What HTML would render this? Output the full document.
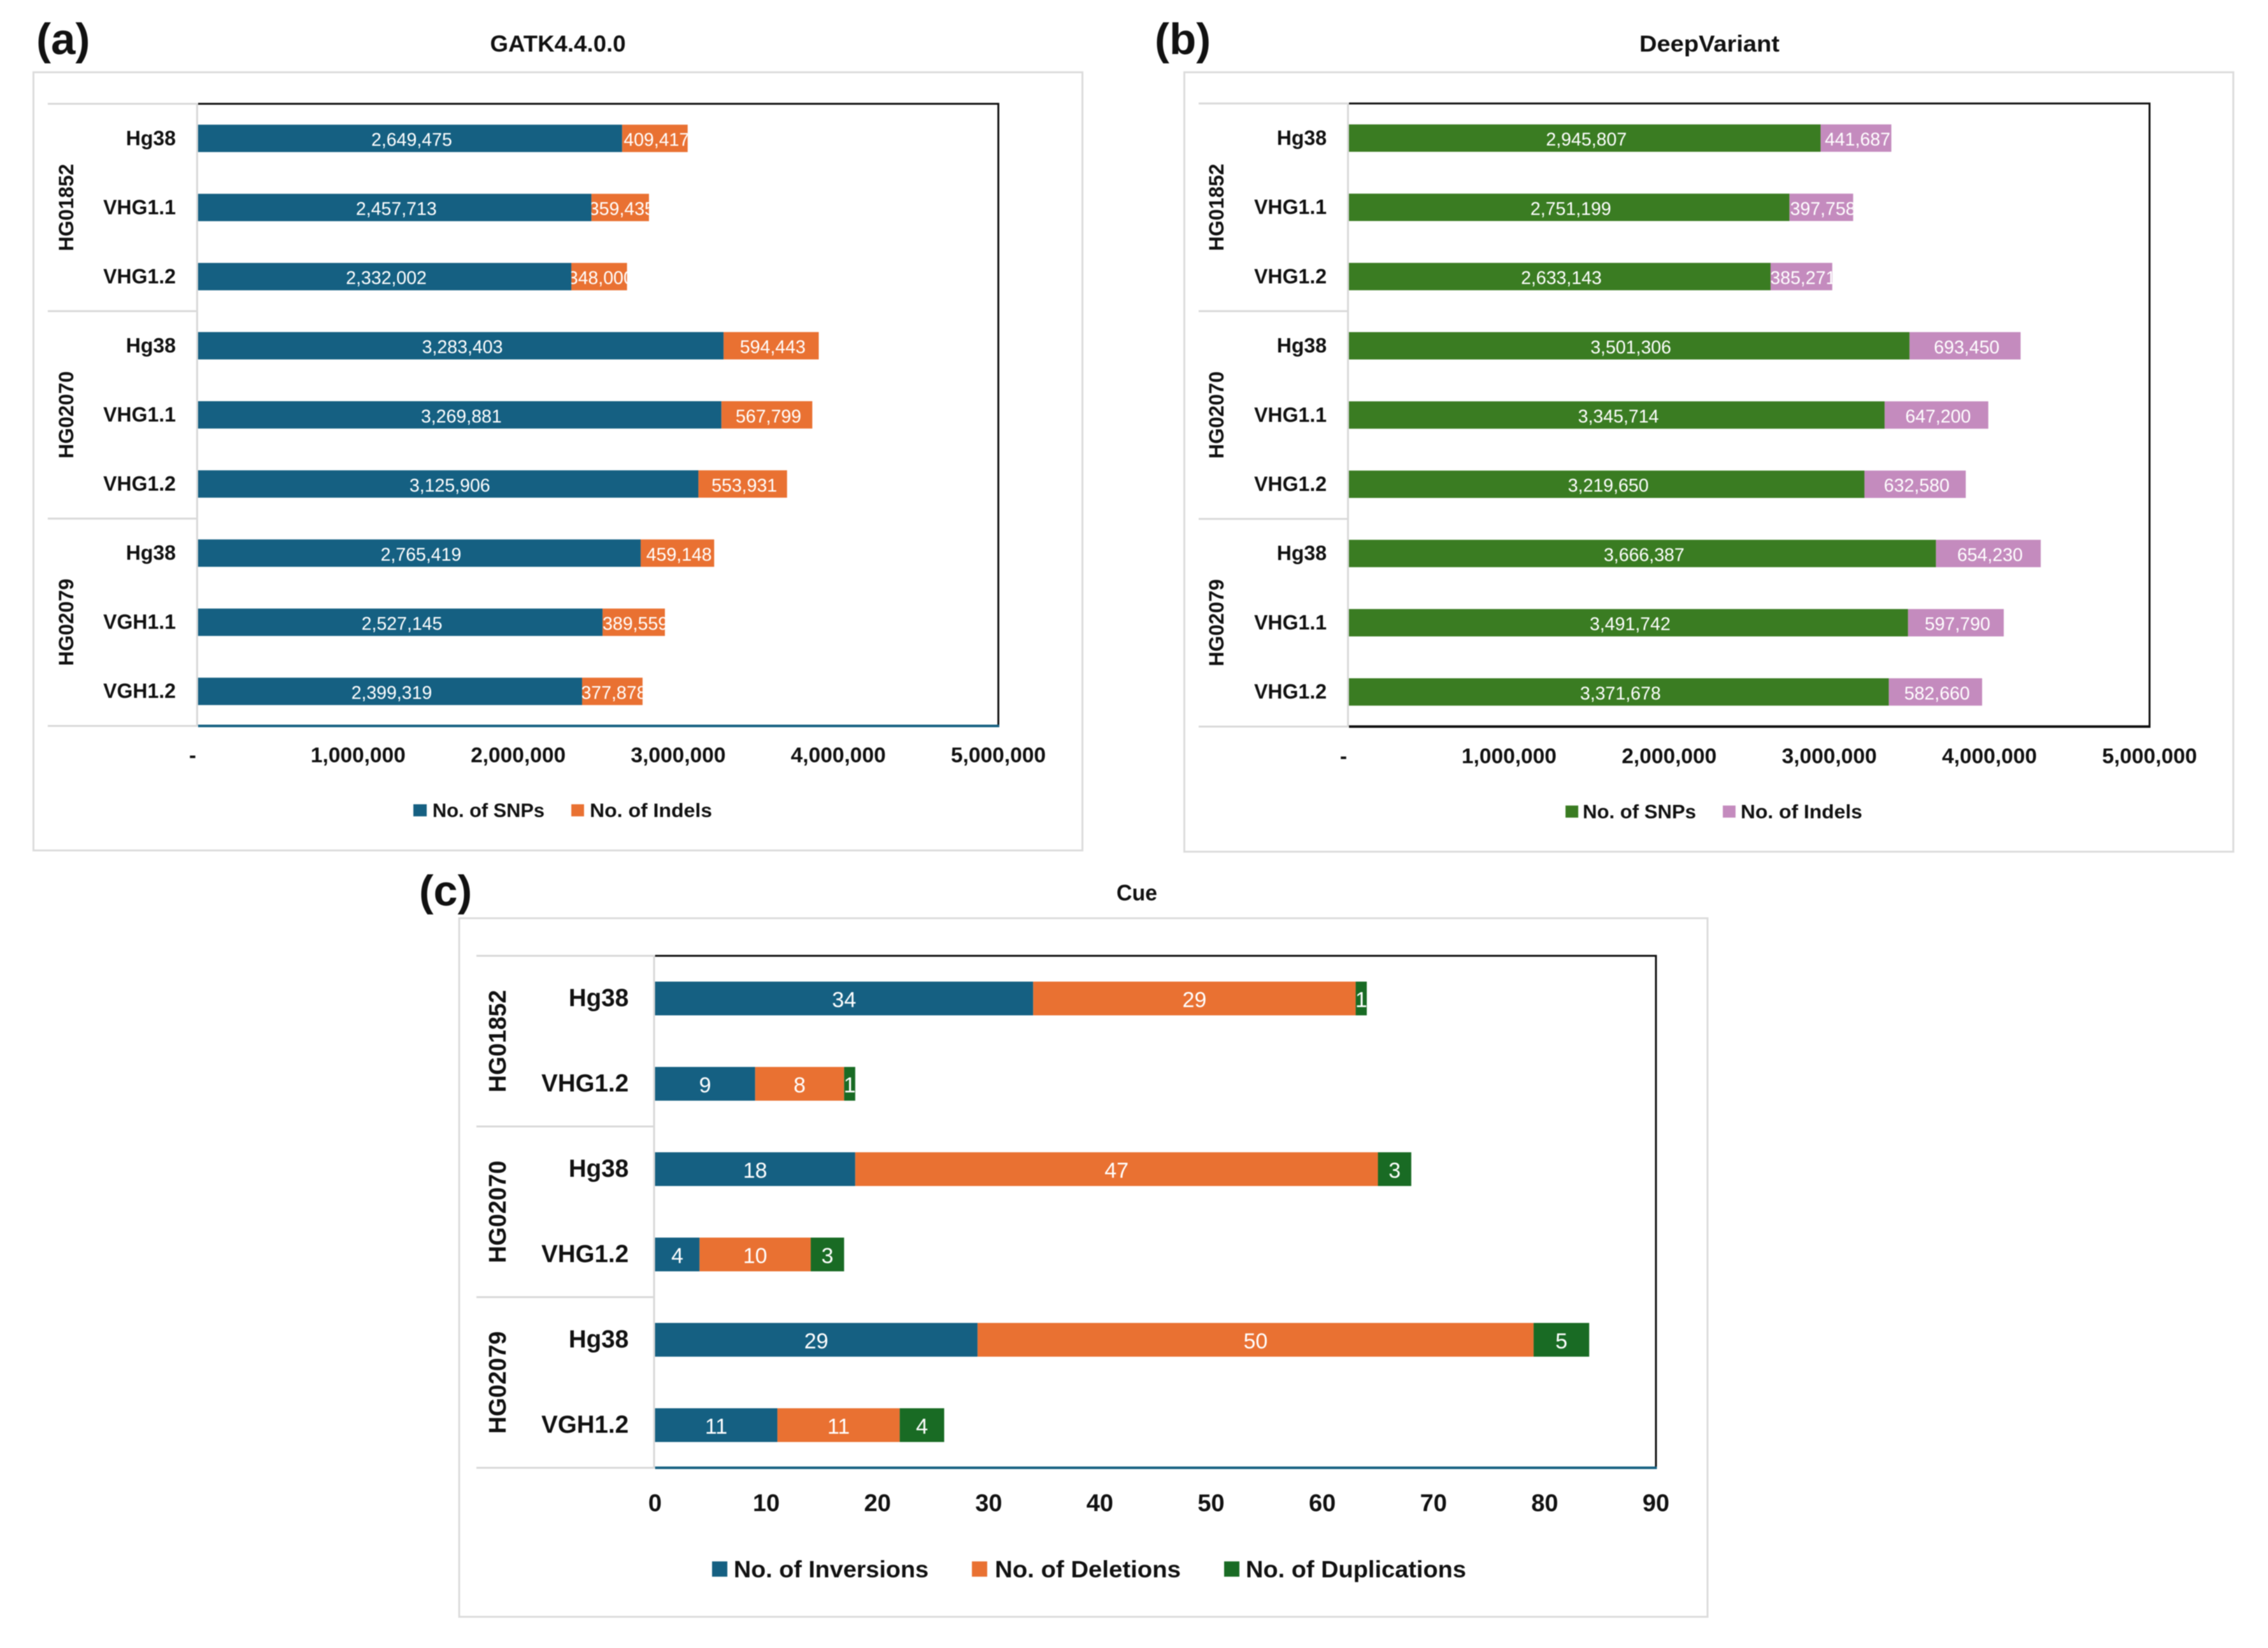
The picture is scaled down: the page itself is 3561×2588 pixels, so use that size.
<!DOCTYPE html>
<html lang="en">
<head>
<meta charset="utf-8">
<title>Variant counts by caller and reference</title>
<style>
  html, body { margin: 0; padding: 0; background: #fff; }
  body { width: 3561px; height: 2588px; overflow: hidden; }
  svg { display: block; font-family: "Liberation Sans", sans-serif; filter: blur(0.7px); }
  text { fill: #111; }
  .b { font-weight: 700; }
  .frame { fill: #fff; stroke: #dcdcdc; stroke-width: 3; }
</style>
</head>
<body>
<svg id="figure" xmlns="http://www.w3.org/2000/svg" width="3561" height="2588" viewBox="0 0 3561 2588">
  <defs id="clips"></defs>
  <rect x="0" y="0" width="3561" height="2588" fill="#fff"/>

  <rect class="frame" x="52.5" y="113.5" width="1647" height="1222"/>
  <rect class="frame" x="1859.5" y="113.5" width="1647" height="1224"/>
  <rect class="frame" x="721" y="1442" width="1960" height="1097"/>

  <text class="b" x="57" y="85" font-size="69">(a)</text>
  <text class="b" x="1813" y="85" font-size="69">(b)</text>
  <text class="b" x="658" y="1422" font-size="68">(c)</text>

  <text class="b" x="876" y="81" font-size="36" text-anchor="middle" textLength="213" lengthAdjust="spacingAndGlyphs">GATK4.4.0.0</text>
  <text class="b" x="2684" y="81" font-size="36" text-anchor="middle" textLength="220" lengthAdjust="spacingAndGlyphs">DeepVariant</text>
  <text class="b" x="1785" y="1414" font-size="35" text-anchor="middle" textLength="64" lengthAdjust="spacingAndGlyphs">Cue</text>

  <g id="plots"></g>

  <g>
    <rect x="649" y="1263" width="21" height="19" fill="#156082"/>
    <text class="b" x="679" y="1283" font-size="31" textLength="176" lengthAdjust="spacingAndGlyphs">No. of SNPs</text>
    <rect x="897" y="1263" width="20" height="19" fill="#E97132"/>
    <text class="b" x="926" y="1283" font-size="31" textLength="192" lengthAdjust="spacingAndGlyphs">No. of Indels</text>
  </g>
  <g>
    <rect x="2458" y="1265" width="20" height="19" fill="#3A7C22"/>
    <text class="b" x="2485" y="1285" font-size="31" textLength="178" lengthAdjust="spacingAndGlyphs">No. of SNPs</text>
    <rect x="2705" y="1265" width="20" height="19" fill="#C48BBE"/>
    <text class="b" x="2733" y="1285" font-size="31" textLength="191" lengthAdjust="spacingAndGlyphs">No. of Indels</text>
  </g>
  <g>
    <rect x="1118" y="2452" width="24" height="24" fill="#156082"/>
    <text class="b" x="1152" y="2477" font-size="37.5" textLength="306" lengthAdjust="spacingAndGlyphs">No. of Inversions</text>
    <rect x="1526" y="2452" width="24" height="24" fill="#E97132"/>
    <text class="b" x="1562" y="2477" font-size="37.5" textLength="292" lengthAdjust="spacingAndGlyphs">No. of Deletions</text>
    <rect x="1922" y="2452" width="24" height="24" fill="#196B24"/>
    <text class="b" x="1956" y="2477" font-size="37.5" textLength="346" lengthAdjust="spacingAndGlyphs">No. of Duplications</text>
  </g>
</svg>

<script>
const groups = ['HG01852', 'HG02070', 'HG02079'];

const categoriesA = ['Hg38', 'VHG1.1', 'VHG1.2', 'Hg38', 'VHG1.1', 'VHG1.2', 'Hg38', 'VGH1.1', 'VGH1.2'];
const snpsA = [2649475, 2457713, 2332002, 3283403, 3269881, 3125906, 2765419, 2527145, 2399319];
const indelsA = [409417, 359435, 348000, 594443, 567799, 553931, 459148, 389559, 377878];

const categoriesB = ['Hg38', 'VHG1.1', 'VHG1.2', 'Hg38', 'VHG1.1', 'VHG1.2', 'Hg38', 'VHG1.1', 'VHG1.2'];
const snpsB = [2945807, 2751199, 2633143, 3501306, 3345714, 3219650, 3666387, 3491742, 3371678];
const indelsB = [441687, 397758, 385271, 693450, 647200, 632580, 654230, 597790, 582660];

const categoriesC = ['Hg38', 'VHG1.2', 'Hg38', 'VHG1.2', 'Hg38', 'VGH1.2'];
const inversionsC = [34, 9, 18, 4, 29, 11];
const deletionsC = [29, 8, 47, 10, 50, 11];
const duplicationsC = [1, 1, 3, 3, 5, 4];

const ticksAB = [0, 1000000, 2000000, 3000000, 4000000, 5000000];
const tickLabelsAB = ['-', '1,000,000', '2,000,000', '3,000,000', '4,000,000', '5,000,000'];
const ticksC = [0, 10, 20, 30, 40, 50, 60, 70, 80, 90];
const tickLabelsC = ['0', '10', '20', '30', '40', '50', '60', '70', '80', '90'];

const NS = 'http://www.w3.org/2000/svg';
const plots = document.getElementById('plots');
const clips = document.getElementById('clips');
let clipCount = 0;

function make(tag, attrs, parent) {
  const el = document.createElementNS(NS, tag);
  for (const k in attrs) el.setAttribute(k, attrs[k]);
  parent.appendChild(el);
  return el;
}

function drawPanel(p) {
  const root = make('g', {}, plots);
  
  

  const xScale = v => p.x0 + (v / p.max) * (p.x1 - p.x0);
  const n = p.categories.length;
  const band = (p.bottom - p.top) / n;
  const yCentre = i => p.top + band * (i + 0.5);

  // group separators and sample labels
  const perGroup = n / p.groups.length;
  for (let g = 0; g <= p.groups.length; g++) {
    const y = p.top + g * perGroup * band;
    const sep = make('line', { x1: p.groupLeft, x2: p.x0 - 1, y1: y, y2: y, stroke: '#d9d9d9', 'stroke-width': 3 }, root);
    
    
  }
  p.groups.forEach((name, g) => {
    const cy = p.top + (g + 0.5) * perGroup * band;
    const t = make('text', {
      class: 'b', 'font-size': p.groupFont, 'text-anchor': 'middle',
      transform: 'translate(' + p.groupX + ',' + cy + ') rotate(-90)'
    }, root);
    t.textContent = name;
    
    
  });

  // plot borders
  const left = make('line', { x1: p.x0 - 1.5, x2: p.x0 - 1.5, y1: p.top, y2: p.bottom, stroke: '#d9d9d9', 'stroke-width': 3 }, root);
  
  
  const border = make('path', {
    d: 'M' + p.x0 + ' ' + p.top + 'H' + p.x1 + 'V' + p.bottom,
    fill: 'none', stroke: '#111', 'stroke-width': 3
  }, root);
  
  
  const base = make('line', { x1: p.x0, x2: p.x1 + 1.5, y1: p.bottom, y2: p.bottom, stroke: p.baseColor, 'stroke-width': 4 }, root);
  
  

  // category labels and stacked bars
  p.categories.forEach((cat, i) => {
    const cy = yCentre(i);
    const label = make('text', {
      class: 'b', x: p.catRight, y: cy + p.catFont * 0.36 + p.catShift,
      'font-size': p.catFont, 'text-anchor': 'end'
    }, root);
    label.textContent = cat;
    
    

    let acc = 0;
    p.series.forEach((s, k) => {
      const v = s.values[i];
      const xa = xScale(acc);
      const xb = xScale(acc + v);
      acc += v;
      const rect = make('rect', {
        x: xa, y: cy - p.barH / 2, width: Math.max(0, xb - xa), height: p.barH, fill: s.color
      }, root);
      
      

      const id = 'seg-clip-' + (clipCount++);
      const cp = make('clipPath', { id: id }, clips);
      make('rect', { x: xa, y: cy - p.barH / 2, width: Math.max(0, xb - xa), height: p.barH }, cp);

      const val = make('text', {
        x: (xa + xb) / 2 + p.valShift, y: cy + p.valFont * 0.36 + 1.5, 'font-size': p.valFont,
        'text-anchor': 'middle', style: 'fill:#fff', 'clip-path': 'url(#' + id + ')'
      }, root);
      val.textContent = v.toLocaleString('en-US');
      
      
    });
  });

  // x axis tick labels
  p.ticks.forEach((v, i) => {
    const text = p.tickLabels[i];
    const t = make('text', {
      class: 'b', x: xScale(v) + (text === '-' ? -8.5 : 0), y: p.tickY,
      'font-size': p.tickFont, 'text-anchor': 'middle'
    }, root);
    t.textContent = text;
    
    
  });
}

drawPanel({
  name: 'panel-a-chart', x0: 311, x1: 1567.5, top: 163, bottom: 1140, max: 5000000,
  groupLeft: 75, groupX: 115, groupFont: 32, catRight: 276, catFont: 32, catShift: -1, valFont: 28.5, valShift: 2.5,
  tickFont: 33.5, tickY: 1197, barH: 43, baseColor: '#156082',
  groups: groups, categories: categoriesA, ticks: ticksAB, tickLabels: tickLabelsAB,
  series: [
    { key: 'snps', values: snpsA, color: '#156082' },
    { key: 'indels', values: indelsA, color: '#E97132' }
  ]
});

drawPanel({
  name: 'panel-b-chart', x0: 2118, x1: 3375, top: 162.5, bottom: 1141, max: 5000000,
  groupLeft: 1882, groupX: 1921, groupFont: 32, catRight: 2083, catFont: 32, catShift: -1, valFont: 28.5, valShift: 2.5,
  tickFont: 33.5, tickY: 1198.5, barH: 43, baseColor: '#111',
  groups: groups, categories: categoriesB, ticks: ticksAB, tickLabels: tickLabelsAB,
  series: [
    { key: 'snps', values: snpsB, color: '#3A7C22' },
    { key: 'indels', values: indelsB, color: '#C48BBE' }
  ]
});

drawPanel({
  name: 'panel-c-chart', x0: 1028.5, x1: 2600, top: 1501, bottom: 2305, max: 90,
  groupLeft: 748, groupX: 794, groupFont: 37.6, catRight: 987, catFont: 38.5, catShift: -2, valFont: 34, valShift: 0,
  tickFont: 38, tickY: 2373, barH: 53, baseColor: '#156082',
  groups: groups, categories: categoriesC, ticks: ticksC, tickLabels: tickLabelsC,
  series: [
    { key: 'inversions', values: inversionsC, color: '#156082' },
    { key: 'deletions', values: deletionsC, color: '#E97132' },
    { key: 'duplications', values: duplicationsC, color: '#196B24' }
  ]
});
</script>
</body>
</html>
